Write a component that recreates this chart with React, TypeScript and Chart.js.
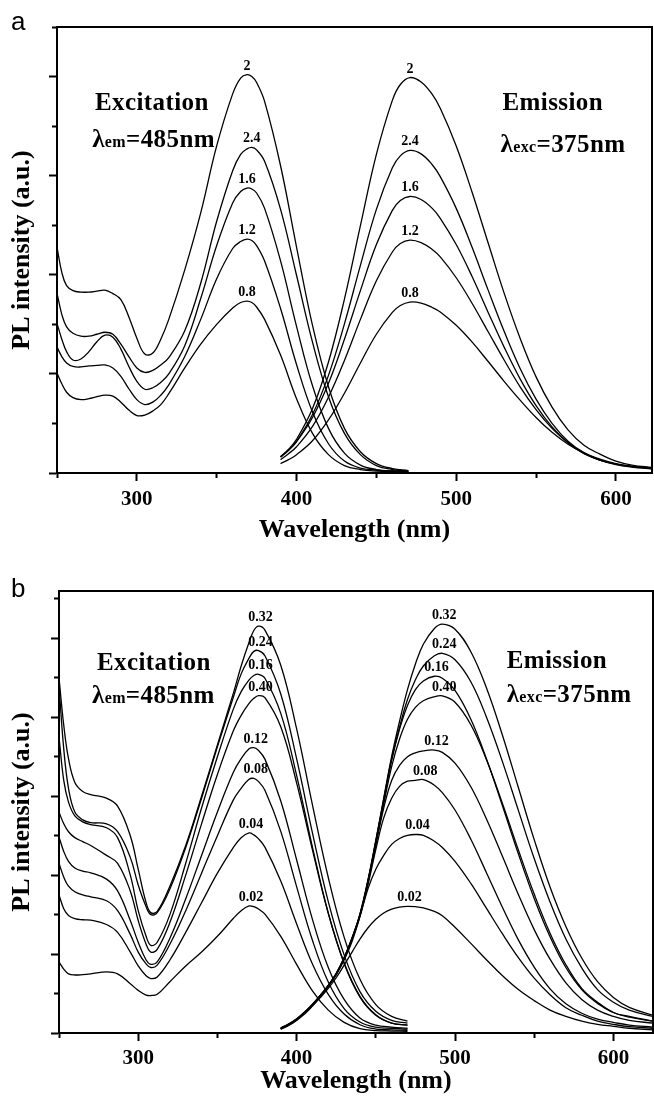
import React, { useEffect, useRef } from 'react';
import { Chart, registerables } from 'chart.js';

Chart.register(...registerables);

const SERIF = '"Liberation Serif", "Times New Roman", serif';
const SANS = '"Liberation Sans", Arial, sans-serif';

// ---------------- Panel a : data ----------------
const A_EXC_X = [250, 253, 256, 260, 265, 270, 275, 280, 285, 290, 295, 300, 305, 310, 315, 320, 330, 340, 350, 360, 365, 369, 372, 375, 380, 390, 400, 410, 420, 430, 440, 450, 460, 470];
const A_EXC_2 = [4.56, 4.05, 3.78, 3.68, 3.65, 3.65, 3.67, 3.69, 3.62, 3.5, 3.15, 2.72, 2.4, 2.42, 2.7, 3.1, 4.1, 5.25, 6.6, 7.65, 7.97, 8.04, 8.0, 7.88, 7.5, 6.2, 4.56, 2.98, 1.74, 0.9, 0.43, 0.19, 0.09, 0.05];
const A_EXC_24 = [3.63, 3.2, 2.95, 2.82, 2.76, 2.76, 2.8, 2.84, 2.8, 2.6, 2.35, 2.12, 2.03, 2.07, 2.18, 2.33, 2.87, 3.83, 5.08, 6.1, 6.43, 6.54, 6.57, 6.52, 6.29, 5.32, 3.99, 2.64, 1.54, 0.8, 0.37, 0.15, 0.07, 0.04];
const A_EXC_16 = [3.02, 2.7, 2.45, 2.28, 2.3, 2.45, 2.65, 2.78, 2.74, 2.5, 2.15, 1.85, 1.69, 1.72, 1.83, 2.0, 2.57, 3.52, 4.59, 5.45, 5.68, 5.75, 5.73, 5.65, 5.34, 4.28, 2.96, 1.76, 0.9, 0.4, 0.16, 0.07, 0.04, 0.03];
const A_EXC_12 = [2.54, 2.35, 2.22, 2.15, 2.14, 2.16, 2.17, 2.18, 2.12, 1.95, 1.7, 1.48, 1.38, 1.43, 1.57, 1.78, 2.35, 3.1, 3.92, 4.53, 4.67, 4.72, 4.69, 4.59, 4.28, 3.32, 2.19, 1.23, 0.59, 0.24, 0.1, 0.06, 0.04, 0.03];
const A_EXC_08 = [2.02, 1.8, 1.63, 1.52, 1.48, 1.5, 1.54, 1.57, 1.55, 1.43, 1.27, 1.16, 1.17, 1.25, 1.38, 1.6, 2.12, 2.6, 3.0, 3.33, 3.44, 3.47, 3.44, 3.35, 3.1, 2.38, 1.5, 0.8, 0.37, 0.15, 0.07, 0.04, 0.03, 0.03];

const A_EM_X = [390, 395, 400, 410, 420, 430, 440, 450, 460, 465, 471, 478, 485, 490, 500, 510, 520, 530, 540, 550, 560, 570, 580, 590, 600, 610, 623];
const A_EM_2 = [0.33, 0.48, 0.68, 1.3, 2.24, 3.51, 4.99, 6.43, 7.52, 7.84, 7.98, 7.89, 7.64, 7.36, 6.6, 5.66, 4.64, 3.63, 2.72, 1.94, 1.33, 0.87, 0.56, 0.38, 0.24, 0.16, 0.11];
const A_EM_24 = [0.32, 0.46, 0.64, 1.18, 1.97, 3.01, 4.19, 5.32, 6.16, 6.4, 6.51, 6.44, 6.22, 5.98, 5.34, 4.55, 3.69, 2.86, 2.11, 1.49, 1.0, 0.64, 0.41, 0.28, 0.19, 0.14, 0.1];
const A_EM_16 = [0.33, 0.46, 0.63, 1.12, 1.81, 2.7, 3.68, 4.61, 5.3, 5.5, 5.58, 5.52, 5.34, 5.14, 4.61, 3.96, 3.24, 2.54, 1.9, 1.36, 0.93, 0.61, 0.39, 0.26, 0.18, 0.13, 0.1];
const A_EM_12 = [0.27, 0.39, 0.53, 0.94, 1.53, 2.27, 3.1, 3.88, 4.46, 4.63, 4.7, 4.65, 4.51, 4.36, 3.94, 3.42, 2.85, 2.28, 1.74, 1.28, 0.9, 0.61, 0.4, 0.26, 0.18, 0.13, 0.1];
const A_EM_08 = [0.19, 0.27, 0.37, 0.65, 1.07, 1.61, 2.22, 2.8, 3.24, 3.38, 3.45, 3.43, 3.34, 3.25, 2.98, 2.64, 2.25, 1.85, 1.47, 1.12, 0.82, 0.58, 0.4, 0.26, 0.17, 0.12, 0.08];

const A_LABELS = ['2', '2.4', '1.6', '1.2', '0.8'];

// ---------------- Panel b : data ----------------
const B_EXC_X = [250, 253, 256, 260, 265, 270, 280, 287, 295, 300, 305, 308, 312, 320, 330, 340, 350, 360, 365, 370, 373, 376, 380, 390, 400, 410, 420, 430, 440, 450, 460, 470];
const B_EXC_032 = [9.0, 7.8, 6.95, 6.35, 6.12, 6.04, 5.95, 5.75, 5.0, 4.15, 3.3, 3.05, 3.08, 3.72, 4.75, 6.0, 7.3, 8.6, 9.3, 9.9, 10.2, 10.31, 10.21, 9.32, 7.71, 5.78, 3.94, 2.43, 1.36, 0.72, 0.42, 0.3];
const B_EXC_024 = [8.8, 7.2, 6.2, 5.6, 5.4, 5.33, 5.3, 5.1, 4.45, 3.75, 3.2, 3.0, 3.05, 3.65, 4.7, 5.95, 7.25, 8.5, 9.1, 9.5, 9.67, 9.69, 9.56, 8.59, 6.95, 5.07, 3.33, 1.98, 1.05, 0.55, 0.32, 0.25];
const B_EXC_016 = [7.5, 6.4, 5.85, 5.5, 5.35, 5.28, 5.2, 4.95, 4.0, 3.1, 2.45, 2.22, 2.3, 3.0, 4.3, 5.7, 7.0, 8.2, 8.65, 8.95, 9.06, 9.09, 8.99, 8.1, 6.53, 4.71, 3.04, 1.76, 0.91, 0.45, 0.25, 0.2];
const B_EXC_040 = [5.6, 5.3, 5.1, 4.95, 4.85, 4.75, 4.5, 4.3, 3.6, 2.85, 2.25, 2.05, 2.12, 2.8, 4.0, 5.3, 6.55, 7.65, 8.05, 8.35, 8.48, 8.55, 8.5, 7.76, 6.34, 4.64, 3.03, 1.78, 0.93, 0.46, 0.25, 0.2];
const B_EXC_012 = [4.97, 4.6, 4.35, 4.18, 4.1, 4.06, 3.9, 3.6, 2.85, 2.3, 1.85, 1.74, 1.8, 2.4, 3.4, 4.5, 5.6, 6.6, 6.95, 7.2, 7.23, 7.16, 6.94, 5.88, 4.39, 2.88, 1.66, 0.85, 0.38, 0.2, 0.15, 0.12];
const B_EXC_008 = [4.3, 3.95, 3.72, 3.58, 3.5, 3.45, 3.35, 3.1, 2.5, 2.05, 1.75, 1.66, 1.72, 2.25, 3.1, 4.05, 5.0, 5.9, 6.2, 6.43, 6.45, 6.37, 6.15, 5.11, 3.71, 2.35, 1.29, 0.62, 0.28, 0.15, 0.12, 0.1];
const B_EXC_004 = [3.5, 3.15, 2.98, 2.9, 2.87, 2.86, 2.75, 2.55, 2.05, 1.7, 1.45, 1.38, 1.42, 1.85, 2.55, 3.3, 4.05, 4.7, 4.95, 5.07, 5.02, 4.92, 4.71, 3.85, 2.77, 1.75, 0.98, 0.48, 0.21, 0.1, 0.08, 0.07];
const B_EXC_002 = [1.8, 1.62, 1.5, 1.47, 1.48, 1.5, 1.55, 1.5, 1.25, 1.08, 0.96, 0.95, 0.98, 1.3, 1.7, 2.05, 2.45, 2.9, 3.1, 3.22, 3.2, 3.14, 3.01, 2.45, 1.74, 1.07, 0.58, 0.27, 0.11, 0.06, 0.05, 0.04];

const B_EM_X = [390, 395, 400, 405, 410, 415, 420, 425, 430, 435, 440, 445, 450, 455, 460, 465, 470, 475, 480, 487, 492, 500, 510, 520, 530, 540, 550, 560, 570, 580, 590, 600, 610, 625];
const B_EM_032 = [0.13, 0.23, 0.36, 0.53, 0.73, 0.96, 1.21, 1.51, 1.91, 2.41, 3.02, 3.87, 4.88, 5.95, 7.0, 7.9, 8.7, 9.35, 9.85, 10.25, 10.36, 10.23, 9.66, 8.73, 7.54, 6.22, 4.9, 3.7, 2.7, 1.9, 1.3, 0.9, 0.65, 0.45];
const B_EM_024 = [0.12, 0.22, 0.35, 0.52, 0.72, 0.95, 1.2, 1.5, 1.9, 2.4, 3.0, 3.85, 4.86, 5.92, 6.95, 7.75, 8.45, 8.95, 9.3, 9.56, 9.62, 9.46, 8.9, 7.99, 6.87, 5.64, 4.42, 3.32, 2.38, 1.65, 1.1, 0.78, 0.58, 0.42];
const B_EM_016 = [0.12, 0.22, 0.35, 0.52, 0.72, 0.95, 1.2, 1.5, 1.9, 2.4, 3.0, 3.84, 4.84, 5.88, 6.9, 7.7, 8.3, 8.7, 8.92, 9.04, 8.99, 8.68, 7.95, 6.93, 5.75, 4.54, 3.41, 2.44, 1.66, 1.1, 0.75, 0.52, 0.4, 0.3];
const B_EM_040 = [0.11, 0.21, 0.34, 0.51, 0.71, 0.94, 1.19, 1.49, 1.89, 2.39, 2.99, 3.82, 4.8, 5.8, 6.75, 7.45, 7.95, 8.25, 8.42, 8.52, 8.54, 8.38, 7.81, 6.91, 5.81, 4.64, 3.52, 2.53, 1.73, 1.13, 0.78, 0.52, 0.42, 0.3];
const B_EM_012 = [0.11, 0.21, 0.34, 0.51, 0.71, 0.94, 1.19, 1.49, 1.88, 2.38, 2.98, 3.8, 4.75, 5.7, 6.4, 6.78, 7.0, 7.1, 7.15, 7.17, 7.11, 6.84, 6.24, 5.41, 4.47, 3.51, 2.62, 1.87, 1.27, 0.85, 0.58, 0.42, 0.32, 0.25];
const B_EM_008 = [0.11, 0.21, 0.34, 0.51, 0.71, 0.94, 1.19, 1.49, 1.88, 2.37, 2.96, 3.75, 4.65, 5.45, 5.95, 6.25, 6.38, 6.4, 6.42, 6.28, 6.09, 5.65, 4.91, 4.05, 3.18, 2.36, 1.67, 1.12, 0.74, 0.5, 0.35, 0.27, 0.2, 0.15];
const B_EM_004 = [0.1, 0.2, 0.33, 0.5, 0.7, 0.93, 1.18, 1.47, 1.85, 2.32, 2.95, 3.65, 4.15, 4.5, 4.78, 4.93, 5.01, 5.03, 5.01, 4.86, 4.7, 4.35, 3.79, 3.15, 2.51, 1.91, 1.39, 0.97, 0.64, 0.45, 0.3, 0.22, 0.16, 0.12];
const B_EM_002 = [0.1, 0.19, 0.32, 0.48, 0.68, 0.9, 1.13, 1.4, 1.72, 2.05, 2.38, 2.66, 2.88, 3.04, 3.14, 3.19, 3.21, 3.2, 3.17, 3.08, 2.97, 2.68, 2.27, 1.85, 1.45, 1.1, 0.82, 0.58, 0.42, 0.3, 0.22, 0.17, 0.12, 0.08];

const B_LABELS = ['0.32', '0.24', '0.16', '0.40', '0.12', '0.08', '0.04', '0.02'];

// ---------------- helpers ----------------
const makeSeries = (xs: number[], ys: number[], label: string) => ({
  label,
  data: xs.map((x, i) => ({ x, y: ys[i] })),
  borderColor: '#000',
  backgroundColor: '#000',
  borderWidth: 1.3,
  pointRadius: 0,
  pointHoverRadius: 0,
  fill: false,
  tension: 0.4,
});

type Note = { x: number; y: number; parts: [string, number][] };

const A_EXC_SETS = [A_EXC_2, A_EXC_24, A_EXC_16, A_EXC_12, A_EXC_08];
const A_EM_SETS = [A_EM_2, A_EM_24, A_EM_16, A_EM_12, A_EM_08];
const B_EXC_SETS = [B_EXC_032, B_EXC_024, B_EXC_016, B_EXC_040, B_EXC_012, B_EXC_008, B_EXC_004, B_EXC_002];
const B_EM_SETS = [B_EM_032, B_EM_024, B_EM_016, B_EM_040, B_EM_012, B_EM_008, B_EM_004, B_EM_002];

const PANEL_A = {
  letter: 'a',
  letterX: 11,
  letterY: 30,
  height: 548,
  plotLeft: 57,
  plotRight: 652,
  plotTop: 27,
  plotBottom: 473,
  xMax: 622.6,
  yMax: 9,
  tickPad: 6,
  labelDx: 0,
  datasets: [
    ...A_EXC_SETS.map((ys, i) => makeSeries(A_EXC_X, ys, A_LABELS[i])),
    ...A_EM_SETS.map((ys, i) => makeSeries(A_EM_X, ys, A_LABELS[i])),
  ],
  notes: [
    { x: 273.8, y: 7.32, parts: [['Excitation', 25]] },
    { x: 272, y: 6.57, parts: [['λ', 25], ['em', 16], ['=485nm', 25]] },
    { x: 529, y: 7.32, parts: [['Emission', 25]] },
    { x: 527.7, y: 6.47, parts: [['λ', 25], ['exc', 16], ['=375nm', 25]] },
  ] as Note[],
};

const PANEL_B = {
  letter: 'b',
  letterX: 11,
  letterY: 49,
  height: 551,
  plotLeft: 59,
  plotRight: 653,
  plotTop: 43,
  plotBottom: 485,
  xMax: 625,
  yMax: 11.2,
  tickPad: 5,
  labelDx: 2,
  datasets: [
    ...B_EXC_SETS.map((ys, i) => makeSeries(B_EXC_X, ys, B_LABELS[i])),
    ...B_EM_SETS.map((ys, i) => makeSeries(B_EM_X, ys, B_LABELS[i])),
  ],
  notes: [
    { x: 274, y: 9.19, parts: [['Excitation', 25]] },
    { x: 270.8, y: 8.35, parts: [['λ', 25], ['em', 16], ['=485nm', 25]] },
    { x: 532.6, y: 9.26, parts: [['Emission', 25]] },
    { x: 532.6, y: 8.4, parts: [['λ', 25], ['exc', 16], ['=375nm', 25]] },
  ] as Note[],
};

function makeOverlay(cfg: any) {
  return {
    id: 'overlay',
    afterDatasetsDraw(chart: any) {
      const { ctx, chartArea: ca, scales } = chart;
      const xs = scales.x;
      const ys = scales.y;
      ctx.save();
      ctx.setLineDash([]);
      ctx.strokeStyle = '#000';
      ctx.lineWidth = 2;
      ctx.beginPath();
      ctx.moveTo(ca.left - 1, ca.top);
      ctx.lineTo(ca.right, ca.top);
      ctx.lineTo(ca.right, ca.bottom + 1);
      ctx.stroke();

      ctx.fillStyle = '#000';
      ctx.textBaseline = 'alphabetic';
      ctx.textAlign = 'center';
      ctx.font = `bold 14px ${SERIF}`;
      chart.data.datasets.forEach((ds: any) => {
        let best = ds.data[0];
        ds.data.forEach((p: any) => {
          if (p.y > best.y) best = p;
        });
        ctx.fillText(ds.label, xs.getPixelForValue(best.x) + cfg.labelDx, ys.getPixelForValue(best.y) - 5);
      });

      ctx.textAlign = 'left';
      (ctx as any).letterSpacing = '0.4px';
      cfg.notes.forEach((n: Note) => {
        let px = xs.getPixelForValue(n.x);
        const py = ys.getPixelForValue(n.y);
        n.parts.forEach(([t, size]) => {
          ctx.font = `bold ${size}px ${SERIF}`;
          ctx.fillText(t, px, py);
          px += ctx.measureText(t).width;
        });
      });
      (ctx as any).letterSpacing = '0px';

      ctx.font = `26px ${SANS}`;
      ctx.fillText(cfg.letter, cfg.letterX, cfg.letterY);
      ctx.restore();
    },
  };
}

function buildConfig(cfg: any): any {
  return {
    type: 'line',
    data: { datasets: cfg.datasets },
    options: {
      responsive: false,
      animation: false,
      devicePixelRatio: 1,
      events: [],
      layout: { padding: { left: 0, right: 654 - cfg.plotRight, top: cfg.plotTop, bottom: 0 } },
      plugins: { legend: { display: false }, tooltip: { enabled: false }, title: { display: false } },
      scales: {
        x: {
          type: 'linear',
          min: 250,
          max: cfg.xMax,
          afterFit: (s: any) => {
            s.height = cfg.height - cfg.plotBottom;
          },
          ticks: {
            stepSize: 50,
            includeBounds: false,
            autoSkip: false,
            maxRotation: 0,
            minRotation: 0,
            padding: cfg.tickPad,
            color: '#000',
            font: { family: SERIF, size: 21, weight: 'bold' },
            callback: (v: number) => (v % 100 === 0 ? String(v) : ''),
          },
          grid: {
            display: true,
            drawOnChartArea: false,
            drawTicks: true,
            tickLength: 8,
            tickWidth: 2,
            tickColor: '#000',
            tickBorderDash: (c: any) => (c.tick && c.tick.value % 100 !== 0 ? [4, 100] : []),
          },
          border: { display: true, color: '#000', width: 2 },
          title: {
            display: true,
            text: 'Wavelength (nm)',
            color: '#000',
            font: { family: SERIF, size: 26, weight: 'bold' },
            padding: { top: 0, bottom: 2 },
          },
        },
        y: {
          type: 'linear',
          min: 0,
          max: cfg.yMax,
          afterFit: (s: any) => {
            s.width = cfg.plotLeft;
          },
          ticks: { display: false, stepSize: 1, includeBounds: false, autoSkip: false },
          grid: {
            display: true,
            drawOnChartArea: false,
            drawTicks: true,
            tickLength: 8,
            tickWidth: 2,
            tickColor: '#000',
            tickBorderDash: (c: any) => (c.tick && Math.round(c.tick.value) % 2 !== 0 ? [0, 3, 5, 100] : []),
          },
          border: { display: true, color: '#000', width: 2 },
          title: {
            display: true,
            text: 'PL intensity (a.u.)',
            color: '#000',
            font: { family: SERIF, size: 26, weight: 'bold' },
            padding: { top: 7, bottom: 0 },
          },
        },
      },
    },
    plugins: [makeOverlay(cfg)],
  };
}

function Panel({ cfg }: { cfg: any }) {
  const ref = useRef<HTMLCanvasElement>(null);
  useEffect(() => {
    if (!ref.current) return;
    const chart = new Chart(ref.current, buildConfig(cfg));
    return () => chart.destroy();
  }, [cfg]);
  return (
    <canvas
      ref={ref}
      width={654}
      height={cfg.height}
      style={{ display: 'block', width: 654, height: cfg.height }}
    />
  );
}

export default function App() {
  return (
    <div style={{ position: 'absolute', left: 0, top: 0, width: 654, height: 1099, background: '#fff' }}>
      <Panel cfg={PANEL_A} />
      <Panel cfg={PANEL_B} />
    </div>
  );
}
